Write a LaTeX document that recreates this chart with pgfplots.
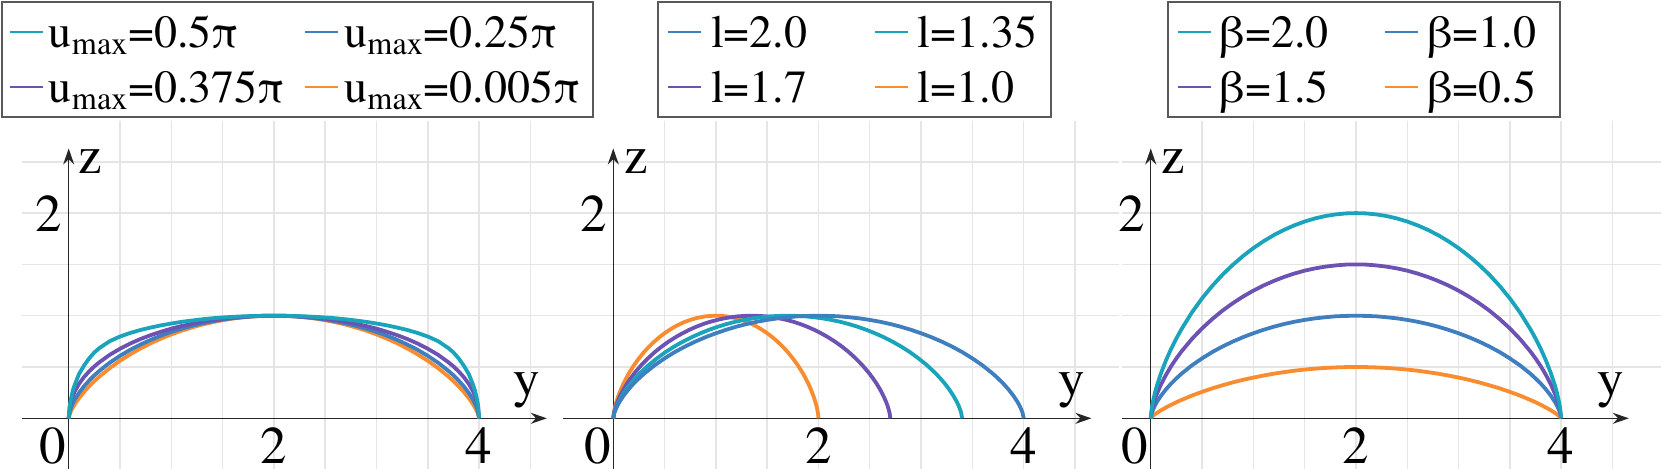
\documentclass[border=0pt]{standalone}
\usepackage{fontspec}
\IfFontExistsTF{TeX Gyre Termes}{\setmainfont{TeX Gyre Termes}\newfontfamily\tnr{TeX Gyre Termes}}{\setmainfont{Liberation Serif}\newfontfamily\tnr{Liberation Serif}}
\usepackage{pgfplots}
\usepackage{pgfplotstable}
\pgfplotsset{compat=1.18}
\usetikzlibrary{arrows.meta}

\definecolor{cteal}{RGB}{26,164,188}
\definecolor{cblue}{RGB}{63,127,191}
\definecolor{cpurple}{RGB}{108,82,178}
\definecolor{corange}{RGB}{250,140,48}

\newcommand{\tfont}{\tnr\fontsize{26.5}{30}\selectfont}
\newcommand{\lfont}{\tnr\fontsize{23}{27}\selectfont}

\tikzset{axarrow/.style={black!85, line width=0.7pt, -{Stealth[length=8pt,width=5.5pt]}}}

% panel 1: y, and z of the four curves (u_max = 0.005pi, 0.25pi, 0.375pi, 0.5pi)
\pgfplotstableread{
y     o      b      p      t
0     0      0      0      0
0.01  0.040  0.063  0.115  0.12
0.02  0.064  0.095  0.159  0.18
0.04  0.104  0.144  0.219  0.27
0.06  0.138  0.183  0.265  0.33
0.1   0.196  0.247  0.335  0.43
0.15  0.258  0.313  0.403  0.515
0.2   0.313  0.369  0.458  0.585
0.25  0.362  0.419  0.506  0.642
0.3   0.408  0.463  0.547  0.685
0.4   0.489  0.542  0.619  0.752
0.5   0.561  0.609  0.678  0.797
0.6   0.624  0.668  0.729  0.832
0.7   0.681  0.719  0.773  0.861
0.8   0.732  0.765  0.811  0.885
0.9   0.777  0.806  0.844  0.906
1.0   0.818  0.842  0.874  0.924
1.1   0.854  0.873  0.899  0.940
1.2   0.885  0.901  0.921  0.953
1.3   0.913  0.925  0.940  0.965
1.4   0.936  0.945  0.957  0.975
1.5   0.956  0.962  0.970  0.983
1.6   0.972  0.976  0.981  0.989
1.7   0.984  0.986  0.989  0.994
1.8   0.993  0.994  0.995  0.997
1.9   0.998  0.999  0.999  0.999
2.0   1      1      1      1
2.1   0.998  0.999  0.999  0.999
2.2   0.993  0.994  0.995  0.997
2.3   0.984  0.986  0.989  0.994
2.4   0.972  0.976  0.981  0.989
2.5   0.956  0.962  0.970  0.983
2.6   0.936  0.945  0.957  0.975
2.7   0.913  0.925  0.940  0.965
2.8   0.885  0.901  0.921  0.953
2.9   0.854  0.873  0.899  0.940
3.0   0.818  0.842  0.874  0.924
3.1   0.777  0.806  0.844  0.906
3.2   0.732  0.765  0.811  0.885
3.3   0.681  0.719  0.773  0.861
3.4   0.624  0.668  0.729  0.832
3.5   0.561  0.609  0.678  0.797
3.6   0.489  0.542  0.619  0.752
3.7   0.408  0.463  0.547  0.685
3.75  0.362  0.419  0.506  0.642
3.8   0.313  0.369  0.458  0.585
3.85  0.258  0.313  0.403  0.515
3.9   0.196  0.247  0.335  0.43
3.94  0.138  0.183  0.265  0.33
3.96  0.104  0.144  0.219  0.27
3.98  0.064  0.095  0.159  0.18
3.99  0.040  0.063  0.115  0.12
4.0   0      0      0      0
}\tabA

% panel 2: z, and y of the four curves (spans 2, 2.7, 3.4, 4)
\pgfplotstableread{
z     yo     yp       yt      yb
0     0      0        0       0
0.050 0.005  0.00675  0.0085  0.01
0.078 0.01   0.0135   0.017   0.02
0.123 0.02   0.027    0.034   0.04
0.159 0.03   0.0405   0.051   0.06
0.220 0.05   0.0675   0.085   0.1
0.284 0.075  0.10125  0.1275  0.15
0.340 0.1    0.135    0.17    0.2
0.389 0.125  0.16875  0.2125  0.25
0.435 0.15   0.2025   0.255   0.3
0.515 0.2    0.27     0.34    0.4
0.584 0.25   0.3375   0.425   0.5
0.646 0.3    0.405    0.51    0.6
0.700 0.35   0.4725   0.595   0.7
0.748 0.4    0.54     0.68    0.8
0.791 0.45   0.6075   0.765   0.9
0.829 0.5    0.675    0.85    1.0
0.863 0.55   0.7425   0.935   1.1
0.893 0.6    0.81     1.02    1.2
0.919 0.65   0.8775   1.105   1.3
0.941 0.7    0.945    1.19    1.4
0.959 0.75   1.0125   1.275   1.5
0.974 0.8    1.08     1.36    1.6
0.985 0.85   1.1475   1.445   1.7
0.994 0.9    1.215    1.53    1.8
0.998 0.95   1.2825   1.615   1.9
1     1      1.35     1.7     2.0
0.998 1.05   1.4175   1.785   2.1
0.994 1.1    1.485    1.87    2.2
0.985 1.15   1.5525   1.955   2.3
0.974 1.2    1.62     2.04    2.4
0.959 1.25   1.6875   2.125   2.5
0.941 1.3    1.755    2.21    2.6
0.919 1.35   1.8225   2.295   2.7
0.893 1.4    1.89     2.38    2.8
0.863 1.45   1.9575   2.465   2.9
0.829 1.5    2.025    2.55    3.0
0.791 1.55   2.0925   2.635   3.1
0.748 1.6    2.16     2.72    3.2
0.700 1.65   2.2275   2.805   3.3
0.646 1.7    2.295    2.89    3.4
0.584 1.75   2.3625   2.975   3.5
0.515 1.8    2.43     3.06    3.6
0.435 1.85   2.4975   3.145   3.7
0.389 1.875  2.53125  3.1875  3.75
0.340 1.9    2.565    3.23    3.8
0.284 1.925  2.59875  3.2725  3.85
0.220 1.95   2.6325   3.315   3.9
0.159 1.97   2.6595   3.349   3.94
0.123 1.98   2.673    3.366   3.96
0.078 1.99   2.6865   3.383   3.98
0.050 1.995  2.69325  3.3915  3.99
0     2      2.7      3.4     4
}\tabB

% panel 3: y, and z of the four curves (beta = 0.5, 1.0, 1.5, 2.0)
\pgfplotstableread{
y     o      b      p      t
0     0      0      0      0
0.01  0.0125 0.050  0.075  0.100
0.02  0.022  0.078  0.118  0.157
0.04  0.038  0.123  0.184  0.245
0.06  0.052  0.159  0.239  0.318
0.1   0.078  0.220  0.330  0.440
0.15  0.106  0.284  0.426  0.568
0.2   0.132  0.340  0.510  0.680
0.25  0.157  0.389  0.584  0.779
0.3   0.179  0.435  0.652  0.869
0.4   0.221  0.515  0.772  1.030
0.5   0.258  0.584  0.876  1.169
0.6   0.292  0.646  0.968  1.291
0.7   0.322  0.700  1.050  1.400
0.8   0.350  0.748  1.122  1.496
0.9   0.375  0.791  1.187  1.582
1.0   0.397  0.829  1.244  1.659
1.1   0.417  0.863  1.295  1.726
1.2   0.435  0.893  1.339  1.786
1.3   0.450  0.919  1.378  1.837
1.4   0.464  0.941  1.411  1.881
1.5   0.475  0.959  1.439  1.918
1.6   0.484  0.974  1.461  1.948
1.7   0.491  0.985  1.478  1.971
1.8   0.496  0.994  1.490  1.987
1.9   0.499  0.998  1.498  1.997
2.0   0.5    1      1.5    2
2.1   0.499  0.998  1.498  1.997
2.2   0.496  0.994  1.490  1.987
2.3   0.491  0.985  1.478  1.971
2.4   0.484  0.974  1.461  1.948
2.5   0.475  0.959  1.439  1.918
2.6   0.464  0.941  1.411  1.881
2.7   0.450  0.919  1.378  1.837
2.8   0.435  0.893  1.339  1.786
2.9   0.417  0.863  1.295  1.726
3.0   0.397  0.829  1.244  1.659
3.1   0.375  0.791  1.187  1.582
3.2   0.350  0.748  1.122  1.496
3.3   0.322  0.700  1.050  1.400
3.4   0.292  0.646  0.968  1.291
3.5   0.258  0.584  0.876  1.169
3.6   0.221  0.515  0.772  1.030
3.7   0.179  0.435  0.652  0.869
3.75  0.157  0.389  0.584  0.779
3.8   0.132  0.340  0.510  0.680
3.85  0.106  0.284  0.426  0.568
3.9   0.078  0.220  0.330  0.440
3.94  0.052  0.159  0.239  0.318
3.96  0.038  0.123  0.184  0.245
3.98  0.022  0.078  0.118  0.157
3.99  0.0125 0.050  0.075  0.100
4.0   0      0      0      0
}\tabC

\pgfplotsset{
  panel/.style={
    x=51.3pt, y=51.3pt,
    anchor=south west,
    ymin=-0.494, ymax=2.9,
    axis lines=middle,
    axis line style={draw=none},
    xtick={2,4}, ytick={2},
    minor xtick={0.5,1,1.5,2.5,3,3.5,4.5},
    minor ytick={0.5,1,1.5,2.5},
    grid=both,
    major grid style={black!10, line width=0.7pt},
    minor grid style={black!10, line width=0.7pt},
    major tick length=0pt, minor tick length=0pt,
    tick label style={font=\tfont, inner sep=0pt},
    xticklabel style={yshift=-4.25pt},
    yticklabel style={xshift=-2.9pt},
    /pgf/number format/assume math mode=true,
    clip=false,
    legend columns=2,
    legend cell align=left,
    legend image code/.code={\draw[##1] (0pt,0pt) -- (16.5pt,0pt);},
    legend style={anchor=north west, draw=black!65, line width=0.8pt,
      font=\lfont, inner ysep=1.25pt, row sep=0pt,
      nodes={inner ysep=0pt, inner xsep=4.5pt, text height=21.5pt, text depth=6pt}},
  },
  curve/.style={line width=1.9pt, line join=round, forget plot},
}

\begin{document}
\begin{tikzpicture}
\useasboundingbox (0,0) rectangle (830.5pt,234.5pt);

% ---------------- Panel 1 ----------------
\begin{axis}[panel, at={(10.75pt,0pt)}, xmin=-0.46, xmax=4.9,
  legend style={at={(-0.0373,1.3441)}, inner xsep=3.5pt,
    /tikz/every even column/.append style={column sep=7pt},
    nodes={inner xsep=2.5pt}}]
\draw[axarrow] (axis cs:-0.46,0) -- (axis cs:4.66,0);
\draw[axarrow] (axis cs:0,-0.494) -- (axis cs:0,2.63);
\node[anchor=north east, inner sep=0pt, font=\tfont] at (axis cs:-0.02,-0.085) {0};
\node[anchor=center, inner sep=0pt, font=\tfont] at (axis cs:0.21,2.5) {z};
\node[anchor=base, inner sep=0pt, font=\tfont] at (axis cs:4.46,0.21) {y};
\addplot[corange, curve] table[x=y, y=o] {\tabA};
\addplot[cblue, curve] table[x=y, y=b] {\tabA};
\addplot[cpurple, curve] table[x=y, y=p] {\tabA};
\addplot[cteal, curve] table[x=y, y=t] {\tabA};
\addlegendimage{cteal, line width=1.1pt}
\addlegendentry{u\textsubscript{max}=0.5π}
\addlegendimage{cblue, line width=1.1pt}
\addlegendentry{u\textsubscript{max}=0.25π}
\addlegendimage{cpurple, line width=1.1pt}
\addlegendentry{u\textsubscript{max}=0.375π}
\addlegendimage{corange, line width=1.1pt}
\addlegendentry{u\textsubscript{max}=0.005π}
\end{axis}

% ---------------- Panel 2 ----------------
\begin{axis}[panel, at={(281.5pt,0pt)}, xmin=-0.49, xmax=4.93,
  legend style={at={(0.1694,1.3441)}, inner xsep=4.4pt,
    /tikz/every even column/.append style={column sep=19.1pt},
    nodes={text width=57.75pt}}]
\draw[axarrow] (axis cs:-0.49,0) -- (axis cs:4.66,0);
\draw[axarrow] (axis cs:0,-0.494) -- (axis cs:0,2.63);
\node[anchor=north east, inner sep=0pt, font=\tfont] at (axis cs:-0.02,-0.085) {0};
\node[anchor=center, inner sep=0pt, font=\tfont] at (axis cs:0.22,2.5) {z};
\node[anchor=base, inner sep=0pt, font=\tfont] at (axis cs:4.47,0.21) {y};
\addplot[corange, curve] table[x=yo, y=z] {\tabB};
\addplot[cpurple, curve] table[x=yp, y=z] {\tabB};
\addplot[cteal, curve] table[x=yt, y=z] {\tabB};
\addplot[cblue, curve] table[x=yb, y=z] {\tabB};
\addlegendimage{cblue, line width=1.1pt}
\addlegendentry{l=2.0}
\addlegendimage{cteal, line width=1.1pt}
\addlegendentry{l=1.35}
\addlegendimage{cpurple, line width=1.1pt}
\addlegendentry{l=1.7}
\addlegendimage{corange, line width=1.1pt}
\addlegendentry{l=1.0}
\end{axis}

% ---------------- Panel 3 ----------------
\begin{axis}[panel, at={(561pt,0pt)}, xmin=-0.28, xmax=4.97,
  legend style={at={(0.0834,1.3441)}, inner xsep=4.5pt,
    /tikz/every even column/.append style={column sep=20.4pt},
    nodes={text width=56.75pt}}]
\draw[axarrow] (axis cs:-0.28,0) -- (axis cs:4.66,0);
\draw[axarrow] (axis cs:0,-0.494) -- (axis cs:0,2.63);
\node[anchor=north east, inner sep=0pt, font=\tfont] at (axis cs:-0.02,-0.085) {0};
\node[anchor=center, inner sep=0pt, font=\tfont] at (axis cs:0.22,2.5) {z};
\node[anchor=base, inner sep=0pt, font=\tfont] at (axis cs:4.48,0.21) {y};
\addplot[corange, curve] table[x=y, y=o] {\tabC};
\addplot[cblue, curve] table[x=y, y=b] {\tabC};
\addplot[cpurple, curve] table[x=y, y=p] {\tabC};
\addplot[cteal, curve] table[x=y, y=t] {\tabC};
\addlegendimage{cteal, line width=1.1pt}
\addlegendentry{β=2.0}
\addlegendimage{cblue, line width=1.1pt}
\addlegendentry{β=1.0}
\addlegendimage{cpurple, line width=1.1pt}
\addlegendentry{β=1.5}
\addlegendimage{corange, line width=1.1pt}
\addlegendentry{β=0.5}
\end{axis}
\end{tikzpicture}
\end{document}
